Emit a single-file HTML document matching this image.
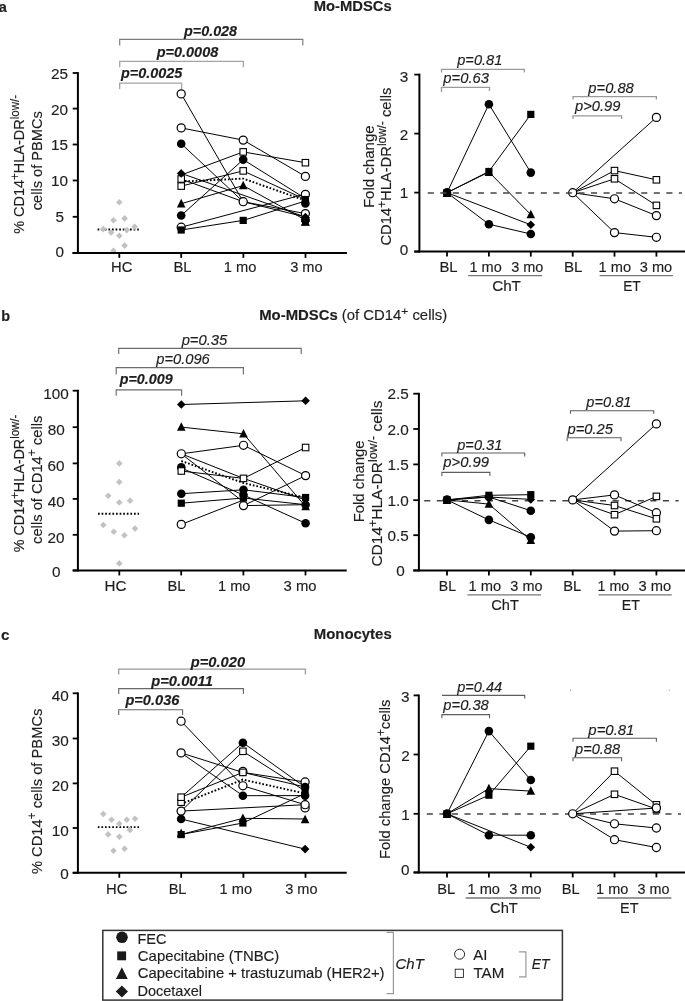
<!DOCTYPE html>
<html><head><meta charset="utf-8"><style>
html,body{margin:0;padding:0;background:#fff;}
svg{display:block;font-family:"Liberation Sans",sans-serif;filter:grayscale(1) blur(0.25px);}
svg text{stroke:#1e1e1e;stroke-width:0.15px;}
</style></head><body>
<svg width="685" height="1001" viewBox="0 0 685 1001">
<rect width="685" height="1001" fill="#fff"/>
<text transform="translate(-1.29,12.00) scale(0.9384,1)" font-size="15.5" font-weight="bold" fill="#1e1e1e">a</text>
<text transform="translate(313.71,10.70) scale(1.0560,1)" font-size="14" font-weight="bold" fill="#1e1e1e">Mo-MDSCs</text>
<line x1="77.90" y1="72.10" x2="77.90" y2="253.90" stroke="#000" stroke-width="2.0"/>
<line x1="72.70" y1="252.90" x2="346.70" y2="252.90" stroke="#000" stroke-width="2.0"/>
<line x1="72.70" y1="73.00" x2="77.90" y2="73.00" stroke="#000" stroke-width="1.8"/>
<text transform="translate(51.08,78.95) scale(1.0000,1)" font-size="15.3" fill="#1e1e1e">25</text>
<line x1="72.70" y1="108.60" x2="77.90" y2="108.60" stroke="#000" stroke-width="1.8"/>
<text transform="translate(51.08,114.55) scale(1.0000,1)" font-size="15.3" fill="#1e1e1e">20</text>
<line x1="72.70" y1="144.50" x2="77.90" y2="144.50" stroke="#000" stroke-width="1.8"/>
<text transform="translate(50.93,150.05) scale(1.0000,1)" font-size="15.3" fill="#1e1e1e">15</text>
<line x1="72.70" y1="180.50" x2="77.90" y2="180.50" stroke="#000" stroke-width="1.8"/>
<text transform="translate(50.93,185.85) scale(1.0000,1)" font-size="15.3" fill="#1e1e1e">10</text>
<line x1="72.70" y1="216.80" x2="77.90" y2="216.80" stroke="#000" stroke-width="1.8"/>
<text transform="translate(55.42,221.85) scale(1.0000,1)" font-size="15.3" fill="#1e1e1e">5</text>
<line x1="72.70" y1="252.90" x2="77.90" y2="252.90" stroke="#000" stroke-width="1.8"/>
<text transform="translate(55.49,256.66) scale(1.0000,1)" font-size="15.3" fill="#1e1e1e">0</text>
<line x1="119.30" y1="252.90" x2="119.30" y2="257.90" stroke="#000" stroke-width="1.8"/>
<line x1="181.20" y1="252.90" x2="181.20" y2="257.90" stroke="#000" stroke-width="1.8"/>
<line x1="243.40" y1="252.90" x2="243.40" y2="257.90" stroke="#000" stroke-width="1.8"/>
<line x1="305.50" y1="252.90" x2="305.50" y2="257.90" stroke="#000" stroke-width="1.8"/>
<text transform="translate(111.02,271.80) scale(1.0199,1)" font-size="14.5" fill="#1e1e1e">HC</text>
<text transform="translate(173.42,271.80) scale(1.0187,1)" font-size="14.5" fill="#1e1e1e">BL</text>
<text transform="translate(223.87,271.80) scale(1.0131,1)" font-size="14.5" fill="#1e1e1e">1 mo</text>
<text transform="translate(290.16,271.80) scale(1.0071,1)" font-size="14.5" fill="#1e1e1e">3 mo</text>
<text transform="translate(24.20,233.83) rotate(-90) scale(0.9783,1.04)" font-size="14.8" fill="#1e1e1e"><tspan font-size="14.8">% CD14</tspan><tspan font-size="11.84" dy="-5.00">+</tspan><tspan font-size="14.8" dy="5.00">HLA-DR</tspan><tspan font-size="11.84" dy="-5.00">low/-</tspan></text>
<text transform="translate(41.70,210.18) rotate(-90) scale(0.9879,1.04)" font-size="14.8" fill="#1e1e1e"><tspan font-size="14.8">cells of PBMCs</tspan></text>
<path d="M119.70,88.90 V83.20 H181.60 V88.90" fill="none" stroke="#a4a4a4" stroke-width="1.3"/>
<path d="M119.70,67.20 V61.30 H243.40 V67.20" fill="none" stroke="#a4a4a4" stroke-width="1.3"/>
<path d="M119.70,45.40 V39.40 H302.80 V45.40" fill="none" stroke="#7c7c7c" stroke-width="1.15"/>
<text transform="translate(121.03,78.40) scale(0.9492,1)" font-size="15.2" font-weight="bold" font-style="italic" fill="#1e1e1e">p=0.0025</text>
<text transform="translate(156.73,56.60) scale(0.9529,1)" font-size="15.2" font-weight="bold" font-style="italic" fill="#1e1e1e">p=0.0008</text>
<text transform="translate(184.03,35.50) scale(0.9451,1)" font-size="15.2" font-weight="bold" font-style="italic" fill="#1e1e1e">p=0.028</text>
<polyline points="97.60,229.50 138.80,229.50" fill="none" stroke="#000" stroke-width="1.9" stroke-dasharray="1.7,1.9"/>
<polygon points="119.30,199.00 122.60,202.30 119.30,205.60 116.00,202.30" fill="#c2c2c2"/>
<polygon points="113.50,217.00 116.80,220.30 113.50,223.60 110.20,220.30" fill="#c2c2c2"/>
<polygon points="124.60,215.10 127.90,218.40 124.60,221.70 121.30,218.40" fill="#c2c2c2"/>
<polygon points="103.30,225.80 106.60,229.10 103.30,232.40 100.00,229.10" fill="#c2c2c2"/>
<polygon points="134.60,223.50 137.90,226.80 134.60,230.10 131.30,226.80" fill="#c2c2c2"/>
<polygon points="111.10,229.20 114.40,232.50 111.10,235.80 107.80,232.50" fill="#c2c2c2"/>
<polygon points="126.80,226.80 130.10,230.10 126.80,233.40 123.50,230.10" fill="#c2c2c2"/>
<polygon points="119.30,232.50 122.60,235.80 119.30,239.10 116.00,235.80" fill="#c2c2c2"/>
<polygon points="124.60,242.30 127.90,245.60 124.60,248.90 121.30,245.60" fill="#c2c2c2"/>
<polygon points="113.50,247.40 116.80,250.70 113.50,254.00 110.20,250.70" fill="#c2c2c2"/>
<line x1="72.70" y1="252.90" x2="346.70" y2="252.90" stroke="#000" stroke-width="2.0"/>
<line x1="181.20" y1="93.90" x2="243.20" y2="201.70" stroke="#000" stroke-width="1.0"/>
<line x1="181.20" y1="127.90" x2="243.20" y2="140.10" stroke="#000" stroke-width="1.0"/>
<line x1="181.20" y1="143.70" x2="243.20" y2="201.70" stroke="#000" stroke-width="1.0"/>
<line x1="181.20" y1="175.00" x2="243.20" y2="151.90" stroke="#000" stroke-width="1.0"/>
<line x1="181.20" y1="179.00" x2="243.20" y2="201.70" stroke="#000" stroke-width="1.0"/>
<line x1="181.20" y1="186.10" x2="243.20" y2="170.90" stroke="#000" stroke-width="1.0"/>
<line x1="181.20" y1="203.70" x2="243.20" y2="185.60" stroke="#000" stroke-width="1.0"/>
<line x1="181.20" y1="215.50" x2="243.20" y2="159.60" stroke="#000" stroke-width="1.0"/>
<line x1="181.20" y1="230.00" x2="243.20" y2="220.40" stroke="#000" stroke-width="1.0"/>
<line x1="181.20" y1="173.40" x2="305.40" y2="217.00" stroke="#000" stroke-width="1.0"/>
<line x1="181.20" y1="227.20" x2="305.40" y2="194.00" stroke="#000" stroke-width="1.0"/>
<line x1="243.20" y1="140.10" x2="305.40" y2="176.40" stroke="#000" stroke-width="1.0"/>
<line x1="243.20" y1="151.90" x2="305.40" y2="162.70" stroke="#000" stroke-width="1.0"/>
<line x1="243.20" y1="159.60" x2="305.40" y2="198.50" stroke="#000" stroke-width="1.0"/>
<line x1="243.20" y1="170.90" x2="305.40" y2="199.50" stroke="#000" stroke-width="1.0"/>
<line x1="243.20" y1="185.60" x2="305.40" y2="220.00" stroke="#000" stroke-width="1.0"/>
<line x1="243.20" y1="201.70" x2="305.40" y2="213.60" stroke="#000" stroke-width="1.0"/>
<line x1="243.20" y1="201.70" x2="305.40" y2="217.00" stroke="#000" stroke-width="1.0"/>
<line x1="243.20" y1="220.40" x2="305.40" y2="201.00" stroke="#000" stroke-width="1.0"/>
<polyline points="181.20,181.60 243.20,178.60 305.40,200.50" fill="none" stroke="#000" stroke-width="1.9" stroke-dasharray="1.7,1.9"/>
<circle cx="181.20" cy="93.90" r="4.05" fill="#fff" stroke="#000" stroke-width="1.2"/>
<circle cx="181.20" cy="127.90" r="4.05" fill="#fff" stroke="#000" stroke-width="1.2"/>
<circle cx="181.20" cy="143.70" r="4.30" fill="#000"/>
<rect x="177.95" y="182.85" width="6.50" height="6.50" fill="#fff" stroke="#000" stroke-width="1.1"/>
<rect x="177.95" y="175.75" width="6.50" height="6.50" fill="#fff" stroke="#000" stroke-width="1.1"/>
<polygon points="181.20,169.10 185.50,173.40 181.20,177.70 176.90,173.40" fill="#000"/>
<polygon points="181.20,198.80 185.50,207.40 176.90,207.40" fill="#000"/>
<circle cx="181.20" cy="215.50" r="4.30" fill="#000"/>
<circle cx="181.20" cy="227.20" r="4.05" fill="#fff" stroke="#000" stroke-width="1.2"/>
<rect x="177.60" y="226.40" width="7.20" height="7.20" fill="#000"/>
<circle cx="243.20" cy="140.10" r="4.05" fill="#fff" stroke="#000" stroke-width="1.2"/>
<rect x="239.95" y="148.65" width="6.50" height="6.50" fill="#fff" stroke="#000" stroke-width="1.1"/>
<circle cx="243.20" cy="159.60" r="4.30" fill="#000"/>
<rect x="239.95" y="167.65" width="6.50" height="6.50" fill="#fff" stroke="#000" stroke-width="1.1"/>
<polygon points="243.20,180.70 247.50,189.30 238.90,189.30" fill="#000"/>
<circle cx="243.20" cy="201.70" r="4.30" fill="#000"/>
<circle cx="243.20" cy="201.70" r="4.05" fill="#fff" stroke="#000" stroke-width="1.2"/>
<rect x="239.60" y="216.80" width="7.20" height="7.20" fill="#000"/>
<rect x="302.15" y="159.45" width="6.50" height="6.50" fill="#fff" stroke="#000" stroke-width="1.1"/>
<circle cx="305.40" cy="176.40" r="4.05" fill="#fff" stroke="#000" stroke-width="1.2"/>
<circle cx="305.40" cy="194.40" r="4.05" fill="#fff" stroke="#000" stroke-width="1.2"/>
<circle cx="305.40" cy="203.40" r="4.30" fill="#000"/>
<rect x="301.80" y="195.90" width="7.20" height="7.20" fill="#000"/>
<circle cx="305.40" cy="220.00" r="4.30" fill="#000"/>
<polygon points="305.40,217.10 309.70,225.70 301.10,225.70" fill="#000"/>
<circle cx="305.40" cy="213.60" r="4.05" fill="#fff" stroke="#000" stroke-width="1.2"/>
<polygon points="305.40,213.10 309.70,217.40 305.40,221.70 301.10,217.40" fill="#000"/>
<polygon points="305.40,213.10 309.70,217.40 305.40,221.70 301.10,217.40" fill="#000"/>
<circle cx="305.40" cy="220.30" r="4.30" fill="#000"/>
<polygon points="305.40,216.90 309.70,225.50 301.10,225.50" fill="#000"/>
<line x1="419.40" y1="73.70" x2="419.40" y2="252.60" stroke="#000" stroke-width="2.0"/>
<line x1="414.30" y1="251.60" x2="685.00" y2="251.60" stroke="#000" stroke-width="2.0"/>
<line x1="414.30" y1="74.60" x2="419.40" y2="74.60" stroke="#000" stroke-width="1.8"/>
<text transform="translate(399.64,82.25) scale(1.0000,1)" font-size="15.3" fill="#1e1e1e">3</text>
<line x1="414.30" y1="133.60" x2="419.40" y2="133.60" stroke="#000" stroke-width="1.8"/>
<text transform="translate(399.80,139.95) scale(1.0000,1)" font-size="15.3" fill="#1e1e1e">2</text>
<line x1="414.30" y1="192.60" x2="419.40" y2="192.60" stroke="#000" stroke-width="1.8"/>
<text transform="translate(399.80,197.65) scale(1.0000,1)" font-size="15.3" fill="#1e1e1e">1</text>
<line x1="414.30" y1="251.60" x2="419.40" y2="251.60" stroke="#000" stroke-width="1.8"/>
<text transform="translate(399.64,254.95) scale(1.0000,1)" font-size="15.3" fill="#1e1e1e">0</text>
<line x1="447.00" y1="251.60" x2="447.00" y2="256.60" stroke="#000" stroke-width="1.8"/>
<line x1="488.90" y1="251.60" x2="488.90" y2="256.60" stroke="#000" stroke-width="1.8"/>
<line x1="530.80" y1="251.60" x2="530.80" y2="256.60" stroke="#000" stroke-width="1.8"/>
<line x1="572.70" y1="251.60" x2="572.70" y2="256.60" stroke="#000" stroke-width="1.8"/>
<line x1="614.50" y1="251.60" x2="614.50" y2="256.60" stroke="#000" stroke-width="1.8"/>
<line x1="656.40" y1="251.60" x2="656.40" y2="256.60" stroke="#000" stroke-width="1.8"/>
<text transform="translate(439.41,272.00) scale(1.0249,1)" font-size="14.5" fill="#1e1e1e">BL</text>
<text transform="translate(469.48,272.00) scale(1.0001,1)" font-size="14.5" fill="#1e1e1e">1 mo</text>
<text transform="translate(511.17,272.00) scale(0.9976,1)" font-size="14.5" fill="#1e1e1e">3 mo</text>
<text transform="translate(563.89,272.00) scale(1.0434,1)" font-size="14.5" fill="#1e1e1e">BL</text>
<text transform="translate(598.57,272.00) scale(1.0099,1)" font-size="14.5" fill="#1e1e1e">1 mo</text>
<text transform="translate(639.76,272.00) scale(1.0071,1)" font-size="14.5" fill="#1e1e1e">3 mo</text>
<line x1="468.20" y1="275.60" x2="542.10" y2="275.60" stroke="#777" stroke-width="1.4"/>
<line x1="599.60" y1="275.60" x2="672.90" y2="275.60" stroke="#777" stroke-width="1.4"/>
<text transform="translate(492.14,291.10) scale(1.0506,1)" font-size="14.5" fill="#1e1e1e">ChT</text>
<text transform="translate(623.20,291.10) scale(0.9492,1)" font-size="14.5" fill="#1e1e1e">ET</text>
<text transform="translate(373.50,208.10) rotate(-90) scale(1.0158,1.04)" font-size="14.8" fill="#1e1e1e"><tspan font-size="14.8">Fold change</tspan></text>
<text transform="translate(391.00,245.54) rotate(-90) scale(0.9963,1.04)" font-size="14.8" fill="#1e1e1e"><tspan font-size="14.8">CD14</tspan><tspan font-size="11.84" dy="-5.00">+</tspan><tspan font-size="14.8" dy="5.00">HLA-DR</tspan><tspan font-size="11.84" dy="-5.00">low/-</tspan><tspan font-size="14.8" dy="5.00"> cells</tspan></text>
<path d="M441.50,91.90 V87.40 H489.50 V90.90" fill="none" stroke="#9a9a9a" stroke-width="1.3"/>
<path d="M441.50,72.50 V69.40 H524.30 V72.50" fill="none" stroke="#9a9a9a" stroke-width="1.3"/>
<path d="M573.00,99.50 V96.60 H656.40 V99.50" fill="none" stroke="#9a9a9a" stroke-width="1.3"/>
<path d="M573.00,119.00 V115.80 H621.60 V119.00" fill="none" stroke="#9a9a9a" stroke-width="1.3"/>
<text transform="translate(457.24,65.30) scale(1.0072,1)" font-size="14.5" font-style="italic" fill="#1e1e1e">p=0.81</text>
<text transform="translate(443.34,82.70) scale(1.0200,1)" font-size="14.5" font-style="italic" fill="#1e1e1e">p=0.63</text>
<text transform="translate(588.34,92.50) scale(1.0167,1)" font-size="14.5" font-style="italic" fill="#1e1e1e">p=0.88</text>
<text transform="translate(575.04,110.90) scale(1.0144,1)" font-size="14.5" font-style="italic" fill="#1e1e1e">p&gt;0.99</text>
<polyline points="447.00,192.70 488.90,104.20 530.80,172.60" fill="none" stroke="#000" stroke-width="1.0"/>
<polyline points="447.00,192.70 488.90,224.20 530.80,234.00" fill="none" stroke="#000" stroke-width="1.0"/>
<polyline points="447.00,192.70 488.90,171.50 530.80,114.40" fill="none" stroke="#000" stroke-width="1.0"/>
<polyline points="447.00,192.70 488.90,172.00 530.80,214.60" fill="none" stroke="#000" stroke-width="1.0"/>
<polyline points="447.00,192.70 530.80,224.80" fill="none" stroke="#000" stroke-width="1.0"/>
<rect x="443.40" y="189.10" width="7.20" height="7.20" fill="#000"/>
<polygon points="447.00,188.30 451.30,196.90 442.70,196.90" fill="#000"/>
<circle cx="447.00" cy="192.40" r="4.30" fill="#000"/>
<circle cx="488.90" cy="104.20" r="4.30" fill="#000"/>
<polygon points="488.90,167.40 493.20,176.00 484.60,176.00" fill="#000"/>
<rect x="485.30" y="167.90" width="7.20" height="7.20" fill="#000"/>
<circle cx="488.90" cy="224.20" r="4.30" fill="#000"/>
<rect x="527.20" y="110.80" width="7.20" height="7.20" fill="#000"/>
<circle cx="530.80" cy="172.60" r="4.30" fill="#000"/>
<polygon points="530.80,209.70 535.10,218.30 526.50,218.30" fill="#000"/>
<polygon points="530.80,220.50 535.10,224.80 530.80,229.10 526.50,224.80" fill="#000"/>
<circle cx="530.80" cy="234.00" r="4.30" fill="#000"/>
<polyline points="572.70,192.70 614.50,170.60 656.40,179.80" fill="none" stroke="#000" stroke-width="1.0"/>
<polyline points="572.70,192.70 614.50,178.80 656.40,205.40" fill="none" stroke="#000" stroke-width="1.0"/>
<polyline points="572.70,192.70 614.50,198.80 656.40,215.60" fill="none" stroke="#000" stroke-width="1.0"/>
<polyline points="572.70,192.70 614.50,232.60 656.40,237.30" fill="none" stroke="#000" stroke-width="1.0"/>
<polyline points="572.70,192.70 656.40,117.40" fill="none" stroke="#000" stroke-width="1.0"/>
<circle cx="572.70" cy="192.70" r="4.05" fill="#fff" stroke="#000" stroke-width="1.2"/>
<rect x="611.25" y="167.35" width="6.50" height="6.50" fill="#fff" stroke="#000" stroke-width="1.1"/>
<rect x="611.25" y="175.55" width="6.50" height="6.50" fill="#fff" stroke="#000" stroke-width="1.1"/>
<circle cx="614.50" cy="198.80" r="4.05" fill="#fff" stroke="#000" stroke-width="1.2"/>
<circle cx="614.50" cy="232.60" r="4.05" fill="#fff" stroke="#000" stroke-width="1.2"/>
<rect x="653.15" y="176.55" width="6.50" height="6.50" fill="#fff" stroke="#000" stroke-width="1.1"/>
<rect x="653.15" y="202.15" width="6.50" height="6.50" fill="#fff" stroke="#000" stroke-width="1.1"/>
<circle cx="656.40" cy="215.60" r="4.05" fill="#fff" stroke="#000" stroke-width="1.2"/>
<circle cx="656.40" cy="237.30" r="4.05" fill="#fff" stroke="#000" stroke-width="1.2"/>
<circle cx="656.40" cy="117.40" r="4.05" fill="#fff" stroke="#000" stroke-width="1.2"/>
<line x1="427.70" y1="193.00" x2="681.90" y2="193.00" stroke="#444" stroke-width="1.5" stroke-dasharray="6.1,6.46"/>
<text transform="translate(1.13,320.80) scale(0.9361,1)" font-size="15.5" font-weight="bold" fill="#1e1e1e">b</text>
<text transform="translate(259.21,320.30) scale(1.0627,1)" font-size="14" fill="#1e1e1e" xml:space="preserve"><tspan font-size="14" font-weight="bold">Mo-MDSCs</tspan><tspan font-size="14"> (of CD14</tspan><tspan font-size="11.20" dy="-5.00">+</tspan><tspan font-size="14" dy="5.00"> cells)</tspan></text>
<line x1="77.90" y1="389.80" x2="77.90" y2="571.40" stroke="#000" stroke-width="2.0"/>
<line x1="72.70" y1="570.40" x2="346.70" y2="570.40" stroke="#000" stroke-width="2.0"/>
<line x1="72.70" y1="390.70" x2="77.90" y2="390.70" stroke="#000" stroke-width="1.8"/>
<text transform="translate(43.18,398.86) scale(1.0000,1)" font-size="15.3" fill="#1e1e1e">100</text>
<line x1="72.70" y1="427.20" x2="77.90" y2="427.20" stroke="#000" stroke-width="1.8"/>
<text transform="translate(47.66,435.25) scale(1.0000,1)" font-size="15.3" fill="#1e1e1e">80</text>
<line x1="72.70" y1="463.40" x2="77.90" y2="463.40" stroke="#000" stroke-width="1.8"/>
<text transform="translate(47.58,471.36) scale(1.0000,1)" font-size="15.3" fill="#1e1e1e">60</text>
<line x1="72.70" y1="498.90" x2="77.90" y2="498.90" stroke="#000" stroke-width="1.8"/>
<text transform="translate(47.81,506.75) scale(1.0000,1)" font-size="15.3" fill="#1e1e1e">40</text>
<line x1="72.70" y1="534.80" x2="77.90" y2="534.80" stroke="#000" stroke-width="1.8"/>
<text transform="translate(47.58,542.55) scale(1.0000,1)" font-size="15.3" fill="#1e1e1e">20</text>
<line x1="72.70" y1="570.40" x2="77.90" y2="570.40" stroke="#000" stroke-width="1.8"/>
<text transform="translate(51.99,577.15) scale(1.0000,1)" font-size="15.3" fill="#1e1e1e">0</text>
<line x1="119.30" y1="570.40" x2="119.30" y2="575.40" stroke="#000" stroke-width="1.8"/>
<line x1="181.20" y1="570.40" x2="181.20" y2="575.40" stroke="#000" stroke-width="1.8"/>
<line x1="243.40" y1="570.40" x2="243.40" y2="575.40" stroke="#000" stroke-width="1.8"/>
<line x1="305.50" y1="570.40" x2="305.50" y2="575.40" stroke="#000" stroke-width="1.8"/>
<text transform="translate(104.59,591.10) scale(1.0457,1)" font-size="14.5" fill="#1e1e1e">HC</text>
<text transform="translate(167.43,591.10) scale(1.0126,1)" font-size="14.5" fill="#1e1e1e">BL</text>
<text transform="translate(217.97,591.10) scale(1.0099,1)" font-size="14.5" fill="#1e1e1e">1 mo</text>
<text transform="translate(283.55,591.10) scale(1.0231,1)" font-size="14.5" fill="#1e1e1e">3 mo</text>
<text transform="translate(24.20,552.23) rotate(-90) scale(0.9691,1.04)" font-size="14.8" fill="#1e1e1e"><tspan font-size="14.8">% CD14</tspan><tspan font-size="11.84" dy="-5.00">+</tspan><tspan font-size="14.8" dy="5.00">HLA-DR</tspan><tspan font-size="11.84" dy="-5.00">low/-</tspan></text>
<text transform="translate(41.50,543.99) rotate(-90) scale(0.9984,1.04)" font-size="14.8" fill="#1e1e1e"><tspan font-size="14.8">cells of CD14</tspan><tspan font-size="11.84" dy="-5.00">+</tspan><tspan font-size="14.8" dy="5.00"> cells</tspan></text>
<path d="M118.70,354.00 V348.30 H301.20 V354.00" fill="none" stroke="#6c6c6c" stroke-width="1.15"/>
<path d="M116.20,374.60 V367.60 H243.40 V374.60" fill="none" stroke="#6c6c6c" stroke-width="1.15"/>
<path d="M116.20,395.80 V389.80 H181.60 V395.80" fill="none" stroke="#6c6c6c" stroke-width="1.15"/>
<text transform="translate(181.64,344.80) scale(1.0211,1)" font-size="14.5" font-style="italic" fill="#1e1e1e">p=0.35</text>
<text transform="translate(156.24,363.80) scale(1.0149,1)" font-size="14.5" font-style="italic" fill="#1e1e1e">p=0.096</text>
<text transform="translate(119.73,384.20) scale(0.9433,1)" font-size="15.2" font-weight="bold" font-style="italic" fill="#1e1e1e">p=0.009</text>
<polyline points="98.00,513.80 139.10,513.80" fill="none" stroke="#000" stroke-width="1.9" stroke-dasharray="1.7,1.9"/>
<polygon points="119.30,460.10 122.60,463.40 119.30,466.70 116.00,463.40" fill="#c2c2c2"/>
<polygon points="119.30,478.70 122.60,482.00 119.30,485.30 116.00,482.00" fill="#c2c2c2"/>
<polygon points="108.20,492.40 111.50,495.70 108.20,499.00 104.90,495.70" fill="#c2c2c2"/>
<polygon points="119.30,499.20 122.60,502.50 119.30,505.80 116.00,502.50" fill="#c2c2c2"/>
<polygon points="130.10,497.50 133.40,500.80 130.10,504.10 126.80,500.80" fill="#c2c2c2"/>
<polygon points="103.30,521.70 106.60,525.00 103.30,528.30 100.00,525.00" fill="#c2c2c2"/>
<polygon points="113.80,528.40 117.10,531.70 113.80,535.00 110.50,531.70" fill="#c2c2c2"/>
<polygon points="124.40,531.90 127.70,535.20 124.40,538.50 121.10,535.20" fill="#c2c2c2"/>
<polygon points="135.00,525.30 138.30,528.60 135.00,531.90 131.70,528.60" fill="#c2c2c2"/>
<polygon points="119.30,560.10 122.60,563.40 119.30,566.70 116.00,563.40" fill="#c2c2c2"/>
<line x1="181.30" y1="404.50" x2="305.60" y2="400.80" stroke="#000" stroke-width="1.0"/>
<line x1="181.30" y1="427.10" x2="243.50" y2="433.80" stroke="#000" stroke-width="1.0"/>
<line x1="181.30" y1="453.80" x2="243.50" y2="445.30" stroke="#000" stroke-width="1.0"/>
<line x1="181.30" y1="453.80" x2="243.50" y2="478.40" stroke="#000" stroke-width="1.0"/>
<line x1="181.30" y1="453.80" x2="243.50" y2="502.00" stroke="#000" stroke-width="1.0"/>
<line x1="181.30" y1="471.00" x2="243.50" y2="478.40" stroke="#000" stroke-width="1.0"/>
<line x1="181.30" y1="468.00" x2="243.50" y2="495.00" stroke="#000" stroke-width="1.0"/>
<line x1="181.30" y1="493.70" x2="243.50" y2="489.80" stroke="#000" stroke-width="1.0"/>
<line x1="181.30" y1="503.20" x2="243.50" y2="498.00" stroke="#000" stroke-width="1.0"/>
<line x1="181.30" y1="524.40" x2="243.50" y2="500.00" stroke="#000" stroke-width="1.0"/>
<line x1="243.50" y1="433.80" x2="305.60" y2="506.50" stroke="#000" stroke-width="1.0"/>
<line x1="243.50" y1="445.30" x2="305.60" y2="475.60" stroke="#000" stroke-width="1.0"/>
<line x1="243.50" y1="478.40" x2="305.60" y2="447.50" stroke="#000" stroke-width="1.0"/>
<line x1="243.50" y1="478.40" x2="305.60" y2="500.00" stroke="#000" stroke-width="1.0"/>
<line x1="243.50" y1="489.80" x2="305.60" y2="497.50" stroke="#000" stroke-width="1.0"/>
<line x1="243.50" y1="495.00" x2="305.60" y2="523.30" stroke="#000" stroke-width="1.0"/>
<line x1="243.50" y1="498.00" x2="305.60" y2="504.70" stroke="#000" stroke-width="1.0"/>
<line x1="243.50" y1="505.60" x2="305.60" y2="475.60" stroke="#000" stroke-width="1.0"/>
<line x1="243.50" y1="505.60" x2="305.60" y2="504.70" stroke="#000" stroke-width="1.0"/>
<polyline points="181.30,461.00 243.50,483.00 305.60,497.70" fill="none" stroke="#000" stroke-width="1.9" stroke-dasharray="1.7,1.9"/>
<polygon points="181.30,400.20 185.60,404.50 181.30,408.80 177.00,404.50" fill="#000"/>
<polygon points="181.30,422.20 185.60,430.80 177.00,430.80" fill="#000"/>
<circle cx="181.30" cy="467.40" r="4.30" fill="#000"/>
<rect x="178.05" y="467.75" width="6.50" height="6.50" fill="#fff" stroke="#000" stroke-width="1.1"/>
<circle cx="181.30" cy="453.80" r="4.05" fill="#fff" stroke="#000" stroke-width="1.2"/>
<circle cx="181.30" cy="493.70" r="4.30" fill="#000"/>
<rect x="177.70" y="499.60" width="7.20" height="7.20" fill="#000"/>
<circle cx="181.30" cy="524.40" r="4.05" fill="#fff" stroke="#000" stroke-width="1.2"/>
<polygon points="243.50,428.90 247.80,437.50 239.20,437.50" fill="#000"/>
<circle cx="243.50" cy="445.30" r="4.05" fill="#fff" stroke="#000" stroke-width="1.2"/>
<rect x="240.25" y="475.15" width="6.50" height="6.50" fill="#fff" stroke="#000" stroke-width="1.1"/>
<circle cx="243.50" cy="489.80" r="4.30" fill="#000"/>
<circle cx="243.50" cy="495.00" r="4.30" fill="#000"/>
<rect x="239.90" y="494.40" width="7.20" height="7.20" fill="#000"/>
<circle cx="243.50" cy="505.60" r="4.05" fill="#fff" stroke="#000" stroke-width="1.2"/>
<polygon points="305.60,396.50 309.90,400.80 305.60,405.10 301.30,400.80" fill="#000"/>
<rect x="302.35" y="444.25" width="6.50" height="6.50" fill="#fff" stroke="#000" stroke-width="1.1"/>
<circle cx="305.60" cy="475.60" r="4.05" fill="#fff" stroke="#000" stroke-width="1.2"/>
<rect x="302.00" y="493.90" width="7.20" height="7.20" fill="#000"/>
<polygon points="305.60,501.60 309.90,510.20 301.30,510.20" fill="#000"/>
<circle cx="305.60" cy="504.70" r="4.30" fill="#000"/>
<circle cx="305.60" cy="523.30" r="4.30" fill="#000"/>
<line x1="418.90" y1="392.80" x2="418.90" y2="571.40" stroke="#000" stroke-width="2.0"/>
<line x1="413.30" y1="570.40" x2="685.00" y2="570.40" stroke="#000" stroke-width="2.0"/>
<line x1="413.30" y1="393.70" x2="418.90" y2="393.70" stroke="#000" stroke-width="1.8"/>
<text transform="translate(387.38,399.25) scale(1.0000,1)" font-size="15.3" fill="#1e1e1e">2.5</text>
<line x1="413.30" y1="429.00" x2="418.90" y2="429.00" stroke="#000" stroke-width="1.8"/>
<text transform="translate(387.38,434.56) scale(1.0000,1)" font-size="15.3" fill="#1e1e1e">2.0</text>
<line x1="413.30" y1="464.40" x2="418.90" y2="464.40" stroke="#000" stroke-width="1.8"/>
<text transform="translate(387.38,469.95) scale(1.0000,1)" font-size="15.3" fill="#1e1e1e">1.5</text>
<line x1="413.30" y1="500.20" x2="418.90" y2="500.20" stroke="#000" stroke-width="1.8"/>
<text transform="translate(387.38,505.75) scale(1.0000,1)" font-size="15.3" fill="#1e1e1e">1.0</text>
<line x1="413.30" y1="535.20" x2="418.90" y2="535.20" stroke="#000" stroke-width="1.8"/>
<text transform="translate(387.38,540.76) scale(1.0000,1)" font-size="15.3" fill="#1e1e1e">0.5</text>
<line x1="413.30" y1="570.40" x2="418.90" y2="570.40" stroke="#000" stroke-width="1.8"/>
<text transform="translate(396.14,576.15) scale(1.0000,1)" font-size="15.3" fill="#1e1e1e">0</text>
<line x1="447.00" y1="570.40" x2="447.00" y2="575.40" stroke="#000" stroke-width="1.8"/>
<line x1="488.90" y1="570.40" x2="488.90" y2="575.40" stroke="#000" stroke-width="1.8"/>
<line x1="530.80" y1="570.40" x2="530.80" y2="575.40" stroke="#000" stroke-width="1.8"/>
<line x1="572.70" y1="570.40" x2="572.70" y2="575.40" stroke="#000" stroke-width="1.8"/>
<line x1="614.50" y1="570.40" x2="614.50" y2="575.40" stroke="#000" stroke-width="1.8"/>
<line x1="656.40" y1="570.40" x2="656.40" y2="575.40" stroke="#000" stroke-width="1.8"/>
<line x1="424.20" y1="500.80" x2="678.60" y2="500.80" stroke="#444" stroke-width="1.5" stroke-dasharray="6.1,6.46"/>
<text transform="translate(438.78,591.00) scale(0.9694,1)" font-size="14.5" fill="#1e1e1e">BL</text>
<text transform="translate(468.47,591.00) scale(1.0131,1)" font-size="14.5" fill="#1e1e1e">1 mo</text>
<text transform="translate(510.37,591.00) scale(0.9976,1)" font-size="14.5" fill="#1e1e1e">3 mo</text>
<text transform="translate(563.23,591.00) scale(1.0126,1)" font-size="14.5" fill="#1e1e1e">BL</text>
<text transform="translate(597.50,591.00) scale(0.9871,1)" font-size="14.5" fill="#1e1e1e">1 mo</text>
<text transform="translate(638.56,591.00) scale(1.0135,1)" font-size="14.5" fill="#1e1e1e">3 mo</text>
<line x1="467.40" y1="594.90" x2="541.00" y2="594.90" stroke="#777" stroke-width="1.4"/>
<line x1="598.50" y1="594.90" x2="671.70" y2="594.90" stroke="#777" stroke-width="1.4"/>
<text transform="translate(491.27,610.20) scale(1.0089,1)" font-size="14.5" fill="#1e1e1e">ChT</text>
<text transform="translate(621.76,610.20) scale(0.9785,1)" font-size="14.5" fill="#1e1e1e">ET</text>
<text transform="translate(363.90,522.29) rotate(-90) scale(1.0045,1.04)" font-size="14.8" fill="#1e1e1e"><tspan font-size="14.8">Fold change</tspan></text>
<text transform="translate(381.90,566.57) rotate(-90) scale(1.0471,1.04)" font-size="14.8" fill="#1e1e1e"><tspan font-size="14.8">CD14</tspan><tspan font-size="11.84" dy="-5.00">+</tspan><tspan font-size="14.8" dy="5.00">HLA-DR</tspan><tspan font-size="11.84" dy="-5.00">low/-</tspan><tspan font-size="14.8" dy="5.00"> cells</tspan></text>
<path d="M441.90,456.60 V453.00 H524.70 V456.60" fill="none" stroke="#5e5e5e" stroke-width="1.1"/>
<path d="M441.90,476.00 V472.40 H489.90 V476.00" fill="none" stroke="#5e5e5e" stroke-width="1.1"/>
<path d="M570.50,413.70 V410.70 H653.70 V413.70" fill="none" stroke="#5e5e5e" stroke-width="1.1"/>
<path d="M567.10,441.30 V437.80 H621.00 V441.30" fill="none" stroke="#5e5e5e" stroke-width="1.1"/>
<text transform="translate(457.24,449.50) scale(1.0072,1)" font-size="14.5" font-style="italic" fill="#1e1e1e">p=0.31</text>
<text transform="translate(443.35,466.90) scale(1.0233,1)" font-size="14.5" font-style="italic" fill="#1e1e1e">p&gt;0.99</text>
<text transform="translate(586.34,406.60) scale(1.0094,1)" font-size="14.5" font-style="italic" fill="#1e1e1e">p=0.81</text>
<text transform="translate(567.54,434.20) scale(1.0167,1)" font-size="14.5" font-style="italic" fill="#1e1e1e">p=0.25</text>
<polyline points="447.00,499.90 488.90,519.90 530.80,537.20" fill="none" stroke="#000" stroke-width="1.0"/>
<polyline points="447.00,499.90 488.90,504.10 530.80,540.30" fill="none" stroke="#000" stroke-width="1.0"/>
<polyline points="447.00,499.90 488.90,495.30 530.80,494.70" fill="none" stroke="#000" stroke-width="1.0"/>
<polyline points="447.00,499.90 488.90,497.00 530.80,499.40" fill="none" stroke="#000" stroke-width="1.0"/>
<polyline points="447.00,499.90 488.90,497.00 530.80,510.70" fill="none" stroke="#000" stroke-width="1.0"/>
<rect x="443.40" y="496.30" width="7.20" height="7.20" fill="#000"/>
<polygon points="447.00,495.50 451.30,504.10 442.70,504.10" fill="#000"/>
<circle cx="447.00" cy="499.60" r="4.30" fill="#000"/>
<circle cx="488.90" cy="497.00" r="4.30" fill="#000"/>
<polygon points="488.90,499.20 493.20,507.80 484.60,507.80" fill="#000"/>
<rect x="485.30" y="491.70" width="7.20" height="7.20" fill="#000"/>
<circle cx="488.90" cy="519.90" r="4.30" fill="#000"/>
<rect x="527.20" y="491.10" width="7.20" height="7.20" fill="#000"/>
<polygon points="530.80,495.10 535.10,499.40 530.80,503.70 526.50,499.40" fill="#000"/>
<circle cx="530.80" cy="510.70" r="4.30" fill="#000"/>
<polygon points="530.80,535.40 535.10,544.00 526.50,544.00" fill="#000"/>
<circle cx="530.80" cy="537.20" r="4.30" fill="#000"/>
<polyline points="572.70,499.90 614.50,494.90 656.40,512.70" fill="none" stroke="#000" stroke-width="1.0"/>
<polyline points="572.70,499.90 614.50,505.50 656.40,518.80" fill="none" stroke="#000" stroke-width="1.0"/>
<polyline points="572.70,499.90 614.50,514.70 656.40,496.40" fill="none" stroke="#000" stroke-width="1.0"/>
<polyline points="572.70,499.90 614.50,531.10 656.40,530.70" fill="none" stroke="#000" stroke-width="1.0"/>
<polyline points="572.70,499.90 656.40,423.90" fill="none" stroke="#000" stroke-width="1.0"/>
<circle cx="572.70" cy="499.90" r="4.05" fill="#fff" stroke="#000" stroke-width="1.2"/>
<circle cx="614.50" cy="494.90" r="4.05" fill="#fff" stroke="#000" stroke-width="1.2"/>
<rect x="611.25" y="502.25" width="6.50" height="6.50" fill="#fff" stroke="#000" stroke-width="1.1"/>
<rect x="611.25" y="511.45" width="6.50" height="6.50" fill="#fff" stroke="#000" stroke-width="1.1"/>
<circle cx="614.50" cy="531.10" r="4.05" fill="#fff" stroke="#000" stroke-width="1.2"/>
<rect x="653.15" y="493.15" width="6.50" height="6.50" fill="#fff" stroke="#000" stroke-width="1.1"/>
<circle cx="656.40" cy="512.70" r="4.05" fill="#fff" stroke="#000" stroke-width="1.2"/>
<rect x="653.15" y="515.55" width="6.50" height="6.50" fill="#fff" stroke="#000" stroke-width="1.1"/>
<circle cx="656.40" cy="530.70" r="4.05" fill="#fff" stroke="#000" stroke-width="1.2"/>
<circle cx="656.40" cy="423.90" r="4.05" fill="#fff" stroke="#000" stroke-width="1.2"/>
<text transform="translate(0.94,639.60) scale(0.9806,1)" font-size="15.5" font-weight="bold" fill="#1e1e1e">c</text>
<text transform="translate(313.70,639.00) scale(1.0672,1)" font-size="14" font-weight="bold" fill="#1e1e1e">Monocytes</text>
<line x1="77.90" y1="692.40" x2="77.90" y2="873.80" stroke="#000" stroke-width="2.0"/>
<line x1="72.70" y1="872.80" x2="346.70" y2="872.80" stroke="#000" stroke-width="2.0"/>
<line x1="72.70" y1="693.30" x2="77.90" y2="693.30" stroke="#000" stroke-width="1.8"/>
<text transform="translate(51.73,701.25) scale(1.0000,1)" font-size="15.3" fill="#1e1e1e">40</text>
<line x1="72.70" y1="738.50" x2="77.90" y2="738.50" stroke="#000" stroke-width="1.8"/>
<text transform="translate(51.73,746.46) scale(1.0000,1)" font-size="15.3" fill="#1e1e1e">30</text>
<line x1="72.70" y1="783.40" x2="77.90" y2="783.40" stroke="#000" stroke-width="1.8"/>
<text transform="translate(51.73,791.15) scale(1.0000,1)" font-size="15.3" fill="#1e1e1e">20</text>
<line x1="72.70" y1="828.00" x2="77.90" y2="828.00" stroke="#000" stroke-width="1.8"/>
<text transform="translate(51.73,835.75) scale(1.0000,1)" font-size="15.3" fill="#1e1e1e">10</text>
<line x1="72.70" y1="872.80" x2="77.90" y2="872.80" stroke="#000" stroke-width="1.8"/>
<text transform="translate(60.24,878.95) scale(1.0000,1)" font-size="15.3" fill="#1e1e1e">0</text>
<line x1="119.30" y1="872.80" x2="119.30" y2="877.80" stroke="#000" stroke-width="1.8"/>
<line x1="181.20" y1="872.80" x2="181.20" y2="877.80" stroke="#000" stroke-width="1.8"/>
<line x1="243.40" y1="872.80" x2="243.40" y2="877.80" stroke="#000" stroke-width="1.8"/>
<line x1="305.50" y1="872.80" x2="305.50" y2="877.80" stroke="#000" stroke-width="1.8"/>
<text transform="translate(106.12,894.20) scale(1.0199,1)" font-size="14.5" fill="#1e1e1e">HC</text>
<text transform="translate(168.63,894.20) scale(1.0064,1)" font-size="14.5" fill="#1e1e1e">BL</text>
<text transform="translate(219.57,894.20) scale(1.0099,1)" font-size="14.5" fill="#1e1e1e">1 mo</text>
<text transform="translate(285.26,894.20) scale(1.0008,1)" font-size="14.5" fill="#1e1e1e">3 mo</text>
<text transform="translate(41.50,874.04) rotate(-90) scale(0.9941,1.04)" font-size="14.8" fill="#1e1e1e"><tspan font-size="14.8">% CD14</tspan><tspan font-size="11.84" dy="-5.00">+</tspan><tspan font-size="14.8" dy="5.00"> cells of PBMCs</tspan></text>
<path d="M118.70,674.40 V669.20 H305.40 V674.40" fill="none" stroke="#9a9a9a" stroke-width="1.3"/>
<path d="M118.70,694.00 V688.60 H243.40 V694.00" fill="none" stroke="#686868" stroke-width="1.15"/>
<path d="M118.70,715.00 V709.70 H182.60 V715.00" fill="none" stroke="#686868" stroke-width="1.15"/>
<text transform="translate(190.84,666.60) scale(0.9653,1)" font-size="15.2" font-weight="bold" font-style="italic" fill="#1e1e1e">p=0.020</text>
<text transform="translate(151.24,685.90) scale(0.9703,1)" font-size="15.2" font-weight="bold" font-style="italic" fill="#1e1e1e">p=0.0011</text>
<text transform="translate(125.44,704.80) scale(0.9602,1)" font-size="15.2" font-weight="bold" font-style="italic" fill="#1e1e1e">p=0.036</text>
<polyline points="97.80,827.10 139.10,827.10" fill="none" stroke="#000" stroke-width="1.9" stroke-dasharray="1.7,1.9"/>
<polygon points="103.30,810.70 106.60,814.00 103.30,817.30 100.00,814.00" fill="#c2c2c2"/>
<polygon points="111.50,816.40 114.80,819.70 111.50,823.00 108.20,819.70" fill="#c2c2c2"/>
<polygon points="119.30,820.50 122.60,823.80 119.30,827.10 116.00,823.80" fill="#c2c2c2"/>
<polygon points="126.80,816.40 130.10,819.70 126.80,823.00 123.50,819.70" fill="#c2c2c2"/>
<polygon points="135.00,815.40 138.30,818.70 135.00,822.00 131.70,818.70" fill="#c2c2c2"/>
<polygon points="108.20,831.10 111.50,834.40 108.20,837.70 104.90,834.40" fill="#c2c2c2"/>
<polygon points="119.30,833.40 122.60,836.70 119.30,840.00 116.00,836.70" fill="#c2c2c2"/>
<polygon points="129.90,826.60 133.20,829.90 129.90,833.20 126.60,829.90" fill="#c2c2c2"/>
<polygon points="113.50,847.50 116.80,850.80 113.50,854.10 110.20,850.80" fill="#c2c2c2"/>
<polygon points="124.60,845.40 127.90,848.70 124.60,852.00 121.30,848.70" fill="#c2c2c2"/>
<line x1="181.10" y1="721.20" x2="242.90" y2="785.80" stroke="#000" stroke-width="1.0"/>
<line x1="181.10" y1="752.90" x2="242.90" y2="772.40" stroke="#000" stroke-width="1.0"/>
<line x1="181.10" y1="752.90" x2="242.90" y2="795.70" stroke="#000" stroke-width="1.0"/>
<line x1="181.10" y1="797.20" x2="242.90" y2="742.70" stroke="#000" stroke-width="1.0"/>
<line x1="181.10" y1="797.20" x2="242.90" y2="772.40" stroke="#000" stroke-width="1.0"/>
<line x1="181.10" y1="811.10" x2="242.90" y2="751.30" stroke="#000" stroke-width="1.0"/>
<line x1="181.10" y1="834.50" x2="242.90" y2="818.30" stroke="#000" stroke-width="1.0"/>
<line x1="181.10" y1="834.50" x2="242.90" y2="823.00" stroke="#000" stroke-width="1.0"/>
<line x1="181.10" y1="811.10" x2="305.10" y2="804.70" stroke="#000" stroke-width="1.0"/>
<line x1="181.10" y1="819.00" x2="305.10" y2="849.10" stroke="#000" stroke-width="1.0"/>
<line x1="242.90" y1="742.70" x2="305.10" y2="787.10" stroke="#000" stroke-width="1.0"/>
<line x1="242.90" y1="751.30" x2="305.10" y2="791.00" stroke="#000" stroke-width="1.0"/>
<line x1="242.90" y1="772.40" x2="305.10" y2="782.00" stroke="#000" stroke-width="1.0"/>
<line x1="242.90" y1="772.40" x2="305.10" y2="787.00" stroke="#000" stroke-width="1.0"/>
<line x1="242.90" y1="785.80" x2="305.10" y2="804.70" stroke="#000" stroke-width="1.0"/>
<line x1="242.90" y1="795.70" x2="305.10" y2="795.60" stroke="#000" stroke-width="1.0"/>
<line x1="242.90" y1="818.30" x2="305.10" y2="819.00" stroke="#000" stroke-width="1.0"/>
<line x1="242.90" y1="823.00" x2="305.10" y2="793.50" stroke="#000" stroke-width="1.0"/>
<polyline points="181.10,804.00 242.90,779.60 305.10,793.50" fill="none" stroke="#000" stroke-width="1.9" stroke-dasharray="1.7,1.9"/>
<circle cx="181.10" cy="721.20" r="4.05" fill="#fff" stroke="#000" stroke-width="1.2"/>
<circle cx="181.10" cy="752.90" r="4.05" fill="#fff" stroke="#000" stroke-width="1.2"/>
<rect x="177.85" y="798.95" width="6.50" height="6.50" fill="#fff" stroke="#000" stroke-width="1.1"/>
<rect x="177.85" y="793.95" width="6.50" height="6.50" fill="#fff" stroke="#000" stroke-width="1.1"/>
<circle cx="181.10" cy="811.10" r="4.05" fill="#fff" stroke="#000" stroke-width="1.2"/>
<circle cx="181.10" cy="819.00" r="4.30" fill="#000"/>
<polygon points="181.10,828.60 185.40,837.20 176.80,837.20" fill="#000"/>
<rect x="177.50" y="831.00" width="7.20" height="7.20" fill="#000"/>
<circle cx="242.90" cy="742.70" r="4.30" fill="#000"/>
<rect x="239.65" y="748.05" width="6.50" height="6.50" fill="#fff" stroke="#000" stroke-width="1.1"/>
<circle cx="242.90" cy="771.50" r="4.05" fill="#fff" stroke="#000" stroke-width="1.2"/>
<rect x="239.65" y="769.15" width="6.50" height="6.50" fill="#fff" stroke="#000" stroke-width="1.1"/>
<circle cx="242.90" cy="785.80" r="4.05" fill="#fff" stroke="#000" stroke-width="1.2"/>
<circle cx="242.90" cy="795.70" r="4.30" fill="#000"/>
<polygon points="242.90,813.40 247.20,822.00 238.60,822.00" fill="#000"/>
<rect x="239.30" y="819.40" width="7.20" height="7.20" fill="#000"/>
<circle cx="305.10" cy="782.00" r="4.05" fill="#fff" stroke="#000" stroke-width="1.2"/>
<circle cx="305.10" cy="787.10" r="4.30" fill="#000"/>
<rect x="301.50" y="787.40" width="7.20" height="7.20" fill="#000"/>
<circle cx="305.10" cy="795.60" r="4.30" fill="#000"/>
<circle cx="305.10" cy="807.90" r="4.05" fill="#fff" stroke="#000" stroke-width="1.2"/>
<circle cx="305.10" cy="804.70" r="4.05" fill="#fff" stroke="#000" stroke-width="1.2"/>
<polygon points="305.10,814.70 309.40,823.30 300.80,823.30" fill="#000"/>
<polygon points="305.10,844.80 309.40,849.10 305.10,853.40 300.80,849.10" fill="#000"/>
<line x1="418.80" y1="694.50" x2="418.80" y2="873.40" stroke="#000" stroke-width="2.0"/>
<line x1="413.60" y1="872.40" x2="685.00" y2="872.40" stroke="#000" stroke-width="2.0"/>
<line x1="413.60" y1="695.40" x2="418.80" y2="695.40" stroke="#000" stroke-width="1.8"/>
<text transform="translate(401.04,702.36) scale(1.0000,1)" font-size="15.3" fill="#1e1e1e">3</text>
<line x1="413.60" y1="754.50" x2="418.80" y2="754.50" stroke="#000" stroke-width="1.8"/>
<text transform="translate(401.20,761.25) scale(1.0000,1)" font-size="15.3" fill="#1e1e1e">2</text>
<line x1="413.60" y1="813.80" x2="418.80" y2="813.80" stroke="#000" stroke-width="1.8"/>
<text transform="translate(401.20,820.15) scale(1.0000,1)" font-size="15.3" fill="#1e1e1e">1</text>
<line x1="413.60" y1="872.40" x2="418.80" y2="872.40" stroke="#000" stroke-width="1.8"/>
<text transform="translate(401.04,875.15) scale(1.0000,1)" font-size="15.3" fill="#1e1e1e">0</text>
<line x1="447.00" y1="872.40" x2="447.00" y2="877.40" stroke="#000" stroke-width="1.8"/>
<line x1="488.90" y1="872.40" x2="488.90" y2="877.40" stroke="#000" stroke-width="1.8"/>
<line x1="530.80" y1="872.40" x2="530.80" y2="877.40" stroke="#000" stroke-width="1.8"/>
<line x1="572.70" y1="872.40" x2="572.70" y2="877.40" stroke="#000" stroke-width="1.8"/>
<line x1="614.50" y1="872.40" x2="614.50" y2="877.40" stroke="#000" stroke-width="1.8"/>
<line x1="656.40" y1="872.40" x2="656.40" y2="877.40" stroke="#000" stroke-width="1.8"/>
<line x1="426.80" y1="814.00" x2="681.00" y2="814.00" stroke="#444" stroke-width="1.5" stroke-dasharray="6.1,6.46"/>
<text transform="translate(437.23,893.90) scale(1.0126,1)" font-size="14.5" fill="#1e1e1e">BL</text>
<text transform="translate(467.47,893.90) scale(1.0099,1)" font-size="14.5" fill="#1e1e1e">1 mo</text>
<text transform="translate(509.16,893.90) scale(1.0040,1)" font-size="14.5" fill="#1e1e1e">3 mo</text>
<text transform="translate(561.83,893.90) scale(1.0064,1)" font-size="14.5" fill="#1e1e1e">BL</text>
<text transform="translate(596.08,893.90) scale(1.0001,1)" font-size="14.5" fill="#1e1e1e">1 mo</text>
<text transform="translate(637.57,893.90) scale(0.9912,1)" font-size="14.5" fill="#1e1e1e">3 mo</text>
<line x1="465.60" y1="898.00" x2="539.90" y2="898.00" stroke="#777" stroke-width="1.4"/>
<line x1="597.20" y1="898.00" x2="671.40" y2="898.00" stroke="#777" stroke-width="1.4"/>
<text transform="translate(490.07,913.40) scale(1.0127,1)" font-size="14.5" fill="#1e1e1e">ChT</text>
<text transform="translate(620.04,913.40) scale(0.9961,1)" font-size="14.5" fill="#1e1e1e">ET</text>
<text transform="translate(390.20,858.98) rotate(-90) scale(0.9968,1.04)" font-size="14.8" fill="#1e1e1e"><tspan font-size="14.8">Fold change CD14</tspan><tspan font-size="11.84" dy="-5.00">+</tspan><tspan font-size="14.8" dy="5.00">cells</tspan></text>
<path d="M441.90,695.40 H524.70 V698.40" fill="none" stroke="#5e5e5e" stroke-width="1.1"/>
<path d="M441.90,718.20 V714.60 H489.50 V718.20" fill="none" stroke="#5e5e5e" stroke-width="1.1"/>
<path d="M573.00,741.70 V738.30 H656.40 V741.70" fill="none" stroke="#5e5e5e" stroke-width="1.1"/>
<path d="M573.00,761.20 V757.70 H621.60 V761.20" fill="none" stroke="#5e5e5e" stroke-width="1.1"/>
<text transform="translate(457.24,692.10) scale(1.0030,1)" font-size="14.5" font-style="italic" fill="#1e1e1e">p=0.44</text>
<text transform="translate(443.34,709.70) scale(1.0167,1)" font-size="14.5" font-style="italic" fill="#1e1e1e">p=0.38</text>
<text transform="translate(588.35,734.60) scale(1.0299,1)" font-size="14.5" font-style="italic" fill="#1e1e1e">p=0.81</text>
<text transform="translate(575.04,753.60) scale(1.0079,1)" font-size="14.5" font-style="italic" fill="#1e1e1e">p=0.88</text>
<rect x="570" y="689.7" width="1" height="1" fill="#888"/>
<rect x="668.8" y="689.7" width="1" height="1" fill="#888"/>
<polyline points="447.00,813.80 488.90,731.10 530.80,780.00" fill="none" stroke="#000" stroke-width="1.0"/>
<polyline points="447.00,813.80 488.90,788.60 530.80,791.10" fill="none" stroke="#000" stroke-width="1.0"/>
<polyline points="447.00,813.80 488.90,795.20 530.80,746.20" fill="none" stroke="#000" stroke-width="1.0"/>
<polyline points="447.00,813.80 488.90,835.20 530.80,835.20" fill="none" stroke="#000" stroke-width="1.0"/>
<polyline points="447.00,813.80 530.80,847.30" fill="none" stroke="#000" stroke-width="1.0"/>
<rect x="443.40" y="810.20" width="7.20" height="7.20" fill="#000"/>
<polygon points="447.00,809.40 451.30,818.00 442.70,818.00" fill="#000"/>
<circle cx="447.00" cy="813.50" r="4.30" fill="#000"/>
<circle cx="488.90" cy="731.10" r="4.30" fill="#000"/>
<polygon points="488.90,783.70 493.20,792.30 484.60,792.30" fill="#000"/>
<rect x="485.30" y="791.60" width="7.20" height="7.20" fill="#000"/>
<circle cx="488.90" cy="835.20" r="4.30" fill="#000"/>
<rect x="527.20" y="742.60" width="7.20" height="7.20" fill="#000"/>
<circle cx="530.80" cy="780.00" r="4.30" fill="#000"/>
<polygon points="530.80,786.20 535.10,794.80 526.50,794.80" fill="#000"/>
<circle cx="530.80" cy="835.20" r="4.30" fill="#000"/>
<polygon points="530.80,843.00 535.10,847.30 530.80,851.60 526.50,847.30" fill="#000"/>
<polyline points="572.70,813.80 614.50,771.20 656.40,805.00" fill="none" stroke="#000" stroke-width="1.0"/>
<polyline points="572.70,813.80 614.50,794.30 656.40,809.00" fill="none" stroke="#000" stroke-width="1.0"/>
<polyline points="572.70,813.80 656.40,808.00" fill="none" stroke="#000" stroke-width="1.0"/>
<polyline points="572.70,813.80 614.50,823.80 656.40,828.00" fill="none" stroke="#000" stroke-width="1.0"/>
<polyline points="572.70,813.80 614.50,839.70 656.40,847.50" fill="none" stroke="#000" stroke-width="1.0"/>
<circle cx="572.70" cy="813.80" r="4.05" fill="#fff" stroke="#000" stroke-width="1.2"/>
<rect x="611.25" y="767.95" width="6.50" height="6.50" fill="#fff" stroke="#000" stroke-width="1.1"/>
<rect x="611.25" y="791.05" width="6.50" height="6.50" fill="#fff" stroke="#000" stroke-width="1.1"/>
<circle cx="614.50" cy="823.80" r="4.05" fill="#fff" stroke="#000" stroke-width="1.2"/>
<circle cx="614.50" cy="839.70" r="4.05" fill="#fff" stroke="#000" stroke-width="1.2"/>
<rect x="653.15" y="806.25" width="6.50" height="6.50" fill="#fff" stroke="#000" stroke-width="1.1"/>
<rect x="653.15" y="801.55" width="6.50" height="6.50" fill="#fff" stroke="#000" stroke-width="1.1"/>
<circle cx="656.40" cy="808.00" r="4.05" fill="#fff" stroke="#000" stroke-width="1.2"/>
<circle cx="656.40" cy="828.00" r="4.05" fill="#fff" stroke="#000" stroke-width="1.2"/>
<circle cx="656.40" cy="847.50" r="4.05" fill="#fff" stroke="#000" stroke-width="1.2"/>
<rect x="102.8" y="930.4" width="459.6" height="69.7" fill="none" stroke="#333" stroke-width="1.5"/>
<circle cx="122.0" cy="937.3" r="5.8" fill="#1a1a1a"/>
<rect x="117.2" y="951.4" width="8.9" height="8.9" fill="#1a1a1a"/>
<polygon points="121.85,967.2 127.8,979.0 115.9,979.0" fill="#1a1a1a"/>
<polygon points="121.9,985.4 128.0,991.5 121.9,997.6 115.8,991.5" fill="#1a1a1a"/>
<text transform="translate(137.44,943.60) scale(1.0000,1)" font-size="14.5" fill="#1e1e1e">FEC</text>
<text transform="translate(137.86,961.00) scale(1.0264,1)" font-size="14.5" fill="#1e1e1e">Capecitabine (TNBC)</text>
<text transform="translate(137.86,978.30) scale(1.0213,1)" font-size="14.5" fill="#1e1e1e">Capecitabine + trastuzumab (HER2+)</text>
<text transform="translate(137.44,995.70) scale(1.0000,1)" font-size="14.5" fill="#1e1e1e">Docetaxel</text>
<path d="M386.5,932.4 H393.4 V993.7 H386.5" fill="none" stroke="#999" stroke-width="1.2"/>
<text transform="translate(395.55,969.40) scale(1.0318,1)" font-size="14.5" font-style="italic" fill="#1e1e1e">ChT</text>
<circle cx="459.6" cy="954.2" r="5.0" fill="#fff" stroke="#222" stroke-width="1.0"/>
<rect x="455.2" y="969.2" width="8.2" height="8.2" fill="#fff" stroke="#222" stroke-width="0.9"/>
<text transform="translate(473.30,960.00) scale(1.0301,1)" font-size="14.5" fill="#1e1e1e">AI</text>
<text transform="translate(473.50,978.30) scale(1.0432,1)" font-size="14.5" fill="#1e1e1e">TAM</text>
<path d="M519.0,951.9 H525.9 V976.9 H519.0" fill="none" stroke="#999" stroke-width="1.2"/>
<text transform="translate(531.78,969.40) scale(0.9551,1)" font-size="14.5" font-style="italic" fill="#1e1e1e">ET</text>
</svg>
</body></html>
